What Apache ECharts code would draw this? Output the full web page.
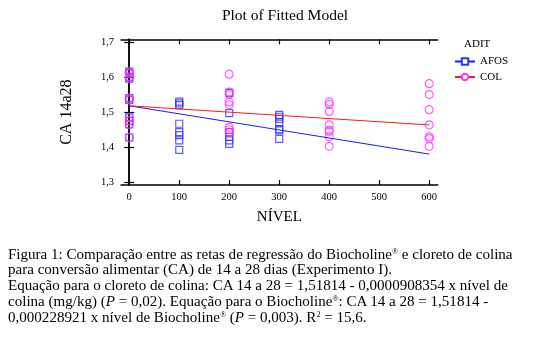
<!DOCTYPE html>
<html>
<head>
<meta charset="utf-8">
<script src="https://cdn.jsdelivr.net/npm/echarts@6/dist/echarts.min.js"></script>
<style>
html,body{margin:0;padding:0;background:#fff;}
#chart{position:absolute;left:0;top:0;width:549px;height:351px;}
#cap{position:absolute;left:8px;top:246.5px;font-family:'Liberation Serif','Times New Roman',serif;font-size:15.05px;line-height:15.8px;white-space:nowrap;color:#000;}
#cap sup{font-size:8px;vertical-align:5px;line-height:0;}
</style>
</head>
<body>
<div id="chart"></div>
<div id="cap">
Figura 1: Comparação entre as retas de regressão do Biocholine<sup>®</sup> e cloreto de colina<br>
para conversão alimentar (CA) de 14 a 28 dias (Experimento I).<br>
Equação para o cloreto de colina: CA 14 a 28 = 1,51814 - 0,0000908354 x nível de<br>
colina (mg/kg) (<i>P</i> = 0,02). Equação para o Biocholine<sup>®</sup>: CA 14 a 28 = 1,51814 -<br>
0,000228921 x nível de Biocholine<sup>®</sup> (<i>P</i> = 0,003). R<sup>2</sup> = 15,6.
</div>
<script>
const xTicks = [0, 100, 200, 300, 400, 500, 600];
const yTicks = [1.3, 1.4, 1.5, 1.6, 1.7];

const afosLevels = [0, 100, 200, 300];
const afosValues = [
  [1.615, 1.61, 1.60, 1.595, 1.54, 1.535, 1.485, 1.475, 1.465, 1.428],
  [1.53, 1.525, 1.52, 1.467, 1.443, 1.435, 1.42, 1.393],
  [1.555, 1.497, 1.443, 1.43, 1.42, 1.41],
  [1.492, 1.487, 1.481, 1.471, 1.452, 1.448, 1.424]
];
const colLevels = [0, 200, 400, 600];
const colValues = [
  [1.615, 1.61, 1.60, 1.595, 1.54, 1.535, 1.485, 1.475, 1.465, 1.428],
  [1.608, 1.557, 1.550, 1.529, 1.521, 1.457, 1.450, 1.443],
  [1.529, 1.522, 1.502, 1.464, 1.449, 1.445, 1.430, 1.403],
  [1.581, 1.550, 1.507, 1.464, 1.430, 1.425, 1.403]
];
const fitX = [0, 600];
const afosFit = [1.5181, 1.3808];
const colFit = [1.5181, 1.4636];

const serif = "'Liberation Serif','Times New Roman',serif";
const toPts = (levels, vals) => levels.flatMap((lv, i) => vals[i].map(v => [lv, v]));

const xMin = -16.5, xMax = 617, yMin = 1.293, yMax = 1.707;
const axLine = {show: true, lineStyle: {color: '#000', width: 1.5}};
const fmtY = v => v.toFixed(1).replace('.', ',');

const chart = echarts.init(document.getElementById('chart'), null, {renderer: 'canvas'});
chart.setOption({
  animation: false,
  backgroundColor: '#fff',
  title: [
    {text: 'Plot of Fitted Model', left: 280, top: 3, textAlign: 'center',
     textStyle: {fontFamily: serif, fontSize: 15.5, fontWeight: 'normal', color: '#000'}},
    {text: 'ADIT', left: 459, top: 34,
     textStyle: {fontFamily: serif, fontSize: 11, fontWeight: 'normal', color: '#000'}}
  ],
  legend: {
    data: ['AFOS', 'COL'], orient: 'vertical', left: 449, top: 51,
    itemWidth: 20, itemHeight: 8, itemGap: 4.5,
    textStyle: {fontFamily: serif, fontSize: 11, color: '#000'}
  },
  grid: {left: 121, right: 111.3, top: 39.3, bottom: 166, containLabel: false},
  xAxis: [
    {type: 'value', position: 'bottom', min: xMin, max: xMax,
     axisLine: axLine, splitLine: {show: false},
     axisTick: {show: true, inside: true, length: 5, customValues: xTicks, lineStyle: {color: '#000', width: 1.2}},
     axisLabel: {customValues: xTicks, fontFamily: serif, fontSize: 10.5, color: '#000', margin: 7},
     name: 'NÍVEL', nameLocation: 'middle', nameGap: 25,
     nameTextStyle: {fontFamily: serif, fontSize: 15, color: '#000'}},
    {type: 'value', position: 'top', min: xMin, max: xMax,
     axisLine: axLine, splitLine: {show: false},
     axisTick: {show: true, inside: true, length: 5, customValues: xTicks, lineStyle: {color: '#000', width: 1.2}},
     axisLabel: {show: false}}
  ],
  yAxis: [
    {type: 'value', position: 'left', min: yMin, max: yMax,
     axisLine: axLine, splitLine: {show: false},
     axisTick: {show: true, inside: true, length: 5, customValues: yTicks, lineStyle: {color: '#000', width: 1.2}},
     axisLabel: {customValues: yTicks, formatter: fmtY, fontFamily: serif, fontSize: 10.5, color: '#000', margin: 7},
     name: 'CA 14a28', nameLocation: 'middle', nameGap: 46,
     nameTextStyle: {fontFamily: serif, fontSize: 16, color: '#000'}},
    {type: 'value', position: 'right', min: yMin, max: yMax,
     axisLine: axLine, splitLine: {show: false},
     axisTick: {show: true, inside: true, length: 5, customValues: yTicks, lineStyle: {color: '#000', width: 1.2}},
     axisLabel: {show: false}}
  ],
  series: [
    {name: 'AFOS', type: 'line', data: fitX.map((x, i) => [x, afosFit[i]]),
     symbol: 'emptyRect', symbolSize: 7, showSymbol: false,
     lineStyle: {color: '#1a1aff', width: 1}, itemStyle: {color: '#3333ff'}, z: 3},
    {name: 'COL', type: 'line', data: fitX.map((x, i) => [x, colFit[i]]),
     symbol: 'emptyCircle', symbolSize: 8, showSymbol: false,
     lineStyle: {color: '#ff1a1a', width: 1}, itemStyle: {color: '#ff33ff'}, z: 3},
    {name: 'AFOS pts', type: 'scatter', data: toPts(afosLevels, afosValues),
     symbol: 'rect', symbolSize: 7,
     itemStyle: {color: 'rgba(0,0,0,0)', borderColor: '#3333ff', borderWidth: 1.2}, z: 2},
    {name: 'COL pts', type: 'scatter', data: toPts(colLevels, colValues),
     symbol: 'circle', symbolSize: 8,
     itemStyle: {color: 'rgba(0,0,0,0)', borderColor: '#ff33ff', borderWidth: 1.2}, z: 2}
  ]
});
</script>
</body>
</html>
